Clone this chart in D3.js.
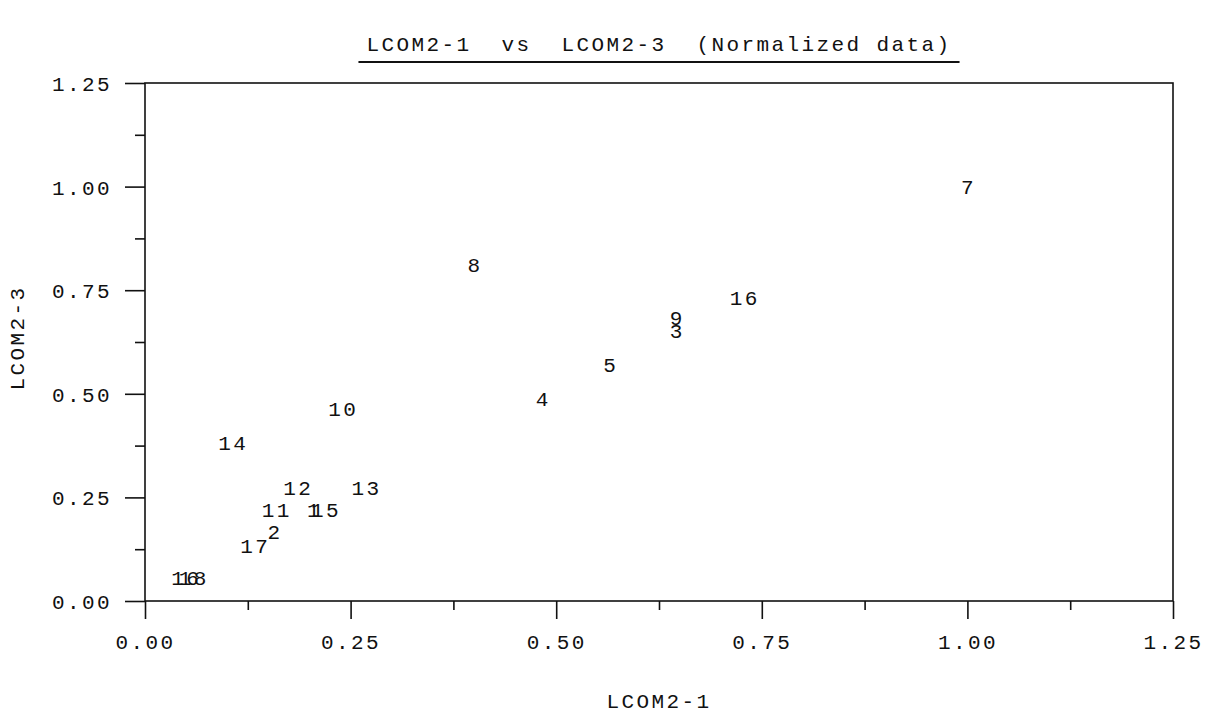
<!DOCTYPE html>
<html>
<head>
<meta charset="utf-8">
<script src="https://cdn.jsdelivr.net/npm/d3@7"></script>
<style>
  body { margin: 0; background: #fff; }
  text { font-family: "Liberation Mono", "Courier New", monospace; font-size: 21px; letter-spacing: 2.4px; fill: #111; }
  .axis path.domain { display: none; }
  .axis line { stroke: #111; stroke-width: 1.6; }
</style>
</head>
<body>
<div id="chart"></div>
<script>
// point labels and normalized values
var pointLabels = ["1", "2", "3", "4", "5", "7", "8", "9", "10", "11", "12", "13", "14", "15", "16", "16", "17", "18"];
var lcom21 = [0.205, 0.157, 0.646, 0.483, 0.565, 1.000, 0.400, 0.646, 0.240, 0.159, 0.185, 0.268, 0.106, 0.219, 0.728, 0.049, 0.133, 0.058];
var lcom23 = [0.220, 0.167, 0.652, 0.488, 0.572, 1.000, 0.812, 0.684, 0.464, 0.220, 0.273, 0.273, 0.382, 0.220, 0.732, 0.058, 0.135, 0.058];

var majorTicks = [0, 0.25, 0.5, 0.75, 1.0, 1.25];
var minorTicks = [0.125, 0.375, 0.625, 0.875, 1.125];

var titleText = "LCOM2-1  vs  LCOM2-3  (Normalized data)";
var xTitle = "LCOM2-1", yTitle = "LCOM2-3";

var _width = 1213, _height = 713;
var plot = { left: 145, right: 1173, top: 83, bottom: 601 };

var svg = d3.select("#chart").append("svg")
	.attr("width", _width)
	.attr("height", _height);

var x = d3.scaleLinear().domain([0, 1.25]).range([plot.left, plot.right]);
var y = d3.scaleLinear().domain([0, 1.25]).range([plot.bottom, plot.top]);

var fmt = d3.format(".2f");

// frame
svg.append("rect")
	.attr("x", plot.left)
	.attr("y", plot.top)
	.attr("width", plot.right - plot.left)
	.attr("height", plot.bottom - plot.top)
	.attr("fill", "none")
	.attr("stroke", "#111")
	.attr("stroke-width", 1.6);

// x axis, major + minor
var gx = svg.append("g")
	.attr("class", "axis")
	.attr("transform", "translate(0," + plot.bottom + ")");
gx.call(d3.axisBottom(x).tickValues(majorTicks).tickSize(18).tickFormat(fmt));
gx.selectAll("text").attr("y", 48).attr("dy", 0);
gx.attr("font-family", null).attr("font-size", null);

svg.append("g")
	.attr("class", "axis")
	.attr("transform", "translate(0," + plot.bottom + ")")
	.call(d3.axisBottom(x).tickValues(minorTicks).tickSize(9).tickFormat(""));

// y axis
var gy = svg.append("g")
	.attr("class", "axis")
	.attr("transform", "translate(" + plot.left + ",0)");
gy.call(d3.axisLeft(y).tickValues(majorTicks).tickSize(20).tickFormat(fmt));
gy.selectAll("text").attr("x", -33).attr("dy", "0.36em");
gy.attr("font-family", null).attr("font-size", null);

svg.append("g")
	.attr("class", "axis")
	.attr("transform", "translate(" + plot.left + ",0)")
	.call(d3.axisLeft(y).tickValues(minorTicks).tickSize(10).tickFormat(""));

// point labels (the chart plots only the labels)
svg.selectAll("text.pt")
	.data(pointLabels)
	.enter()
	.append("text")
	.attr("class", "pt")
	.attr("text-anchor", "middle")
	.attr("x", function(d, i) { return x(lcom21[i]) + 1; })
	.attr("y", function(d, i) { return y(lcom23[i]); })
	.attr("dy", "0.36em")
	.text(function(d) { return d; });

// titles
var cx = (plot.left + plot.right) / 2;
var title = svg.append("text")
	.attr("x", cx)
	.attr("y", 51)
	.attr("text-anchor", "middle")
	.style("white-space", "pre")
	.attr("xml:space", "preserve")
	.text(titleText);
var tb = title.node().getBBox();
svg.append("line")
	.attr("x1", tb.x - 8)
	.attr("x2", tb.x + tb.width + 8)
	.attr("y1", 62)
	.attr("y2", 62)
	.attr("stroke", "#111")
	.attr("stroke-width", 2);

svg.append("text")
	.attr("x", cx)
	.attr("y", 708)
	.attr("text-anchor", "middle")
	.text(xTitle);

svg.append("text")
	.attr("transform", "translate(24,338) rotate(-90)")
	.attr("text-anchor", "middle")
	.text(yTitle);
</script>
</body>
</html>
